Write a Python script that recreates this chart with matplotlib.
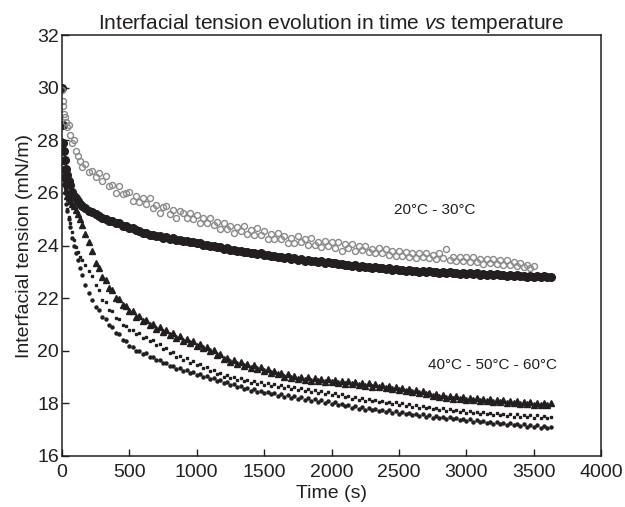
import matplotlib
matplotlib.use("Agg")
import matplotlib.pyplot as plt

plt.rcParams['font.family'] = ['Liberation Sans', 'DejaVu Sans']
plt.rcParams['mathtext.fontset'] = 'custom'
plt.rcParams['mathtext.rm'] = 'Liberation Sans'
plt.rcParams['mathtext.it'] = 'Liberation Sans:italic'

# sampling times (s)
time_s = [0, 5, 10, 15, 20, 30, 40, 50, 60, 75, 90, 105, 120, 135, 150, 175, 200,
          225, 250, 275, 300, 325, 350, 375, 400, 425, 450, 475, 500, 525, 550, 575, 600,
          625, 650, 675, 700, 725, 750, 775, 800, 825, 850, 875, 900, 925, 950, 975, 1000,
          1025, 1050, 1075, 1100, 1125, 1150, 1175, 1200, 1225, 1250, 1275, 1300, 1325, 1350,
          1375, 1400, 1425, 1450, 1475, 1500, 1525, 1550, 1575, 1600, 1625, 1650, 1675, 1700,
          1725, 1750, 1775, 1800, 1825, 1850, 1875, 1900, 1925, 1950, 1975, 2000, 2025, 2050,
          2075, 2100, 2125, 2150, 2175, 2200, 2225, 2250, 2275, 2300, 2325, 2350, 2375, 2400,
          2425, 2450, 2475, 2500, 2525, 2550, 2575, 2600, 2625, 2650, 2675, 2700, 2725, 2750,
          2775, 2800, 2825, 2850, 2875, 2900, 2925, 2950, 2975, 3000, 3025, 3050, 3075, 3100,
          3125, 3150, 3175, 3200, 3225, 3250, 3275, 3300, 3325, 3350, 3375, 3400, 3425, 3450,
          3475, 3500, 3525, 3550, 3575, 3600, 3625]

# interfacial tension (mN/m)
t20 = [29.9, 29.5, 29.3, 29.0, 28.9, 28.7, 28.5, 28.6, 28.2, 27.9, 28.0, 27.6, 27.4, 27.2, 27.0, 27.1, 26.8,
       26.85, 26.6, 26.75, 26.45, 26.65, 26.25, 26.3, 26.0, 26.25, 25.95, 26.0, 26.05, 25.7, 25.9, 25.65, 25.8,
       25.6, 25.8, 25.42, 25.55, 25.25, 25.45, 25.52, 25.2, 25.37, 25.05, 25.32, 25.25, 25.05, 25.25, 25.03, 25.15,
       24.87, 25.05, 24.85, 25.05, 24.8, 24.9, 24.63, 24.85, 24.62, 24.75, 24.46, 24.72, 24.55, 24.73,
       24.45, 24.58, 24.41, 24.65, 24.42, 24.55, 24.26, 24.43, 24.25, 24.47, 24.25, 24.38, 24.1, 24.28,
       24.11, 24.35, 24.13, 24.25, 24.03, 24.28, 24.03, 24.15, 23.93, 24.18, 24.0, 24.13, 23.91, 24.12,
       23.8, 24.05, 23.9, 24.05, 23.81, 23.98, 23.82, 24.0, 23.75, 23.88, 23.7, 23.9, 23.73, 23.86,
       23.63, 23.79, 23.62, 23.78, 23.62, 23.77, 23.58, 23.71, 23.54, 23.71, 23.56, 23.72, 23.53, 23.66,
       23.49, 23.7, 23.52, 23.86, 23.44, 23.58, 23.4, 23.56, 23.41, 23.55, 23.36, 23.55, 23.38, 23.5,
       23.31, 23.5, 23.34, 23.48, 23.29, 23.44, 23.28, 23.45, 23.26, 23.38, 23.21, 23.33, 23.19, 23.26,
       23.16, 23.23]

t30 = [30.0, 28.6, 27.9, 27.6, 27.25, 26.9, 26.7, 26.45, 26.3, 26.05, 25.9, 25.8, 25.7, 25.6, 25.5, 25.42, 25.33,
       25.28, 25.19, 25.14, 25.06, 25.03, 24.95, 24.94, 24.86, 24.84, 24.76, 24.74, 24.67, 24.65, 24.58, 24.56, 24.49,
       24.48, 24.41, 24.41, 24.35, 24.35, 24.30, 24.31, 24.26, 24.27, 24.22, 24.23, 24.18, 24.19, 24.14, 24.15, 24.10,
       24.11, 24.04, 24.04, 23.98, 23.99, 23.93, 23.94, 23.88, 23.9, 23.84, 23.85, 23.79, 23.81, 23.75,
       23.77, 23.71, 23.73, 23.68, 23.7, 23.64, 23.66, 23.6, 23.62, 23.56, 23.58, 23.53, 23.55, 23.49,
       23.51, 23.46, 23.48, 23.43, 23.45, 23.4, 23.42, 23.37, 23.4, 23.35, 23.37, 23.32, 23.34, 23.29,
       23.31, 23.26, 23.28, 23.23, 23.25, 23.2, 23.23, 23.18, 23.2, 23.15, 23.18, 23.13, 23.15, 23.1,
       23.13, 23.08, 23.11, 23.06, 23.09, 23.04, 23.07, 23.02, 23.05, 23.01, 23.04, 22.99, 23.02, 22.98,
       23.01, 22.96, 22.99, 22.95, 22.98, 22.94, 22.97, 22.93, 22.96, 22.92, 22.95, 22.91, 22.94, 22.9,
       22.93, 22.89, 22.92, 22.88, 22.91, 22.87, 22.9, 22.85, 22.88, 22.84, 22.87, 22.83, 22.86, 22.82,
       22.85, 22.81, 22.84, 22.8, 22.83, 22.79, 22.8]

t40 = [27.6, 27.2, 26.9, 26.6, 26.4, 26.1, 25.9, 25.8, 25.7, 25.6, 25.5, 25.35, 25.2, 25.0, 24.8, 24.45, 24.15,
       23.8, 23.35, 23.15, 22.8, 22.68, 22.38, 22.3, 22.02, 21.98, 21.74, 21.72, 21.5, 21.5, 21.3, 21.33, 21.12,
       21.16, 20.97, 21.02, 20.83, 20.9, 20.7, 20.78, 20.6, 20.66, 20.48, 20.56, 20.38, 20.46, 20.28, 20.36, 20.2,
       20.26, 20.1, 20.14, 19.98, 20.02, 19.84, 19.86, 19.7, 19.72, 19.58, 19.64, 19.5, 19.57, 19.43,
       19.5, 19.36, 19.45, 19.3, 19.38, 19.24, 19.3, 19.16, 19.24, 19.1, 19.16, 19.02, 19.1, 18.96,
       19.05, 18.92, 19.02, 18.89, 18.99, 18.86, 18.96, 18.84, 18.94, 18.82, 18.92, 18.8, 18.9, 18.77,
       18.86, 18.74, 18.84, 18.72, 18.81, 18.7, 18.79, 18.67, 18.76, 18.64, 18.73, 18.62, 18.7, 18.59,
       18.67, 18.56, 18.63, 18.52, 18.6, 18.48, 18.56, 18.44, 18.51, 18.39, 18.46, 18.34, 18.41, 18.29,
       18.37, 18.25, 18.33, 18.21, 18.3, 18.18, 18.27, 18.16, 18.25, 18.14, 18.22, 18.12, 18.2, 18.1,
       18.18, 18.08, 18.16, 18.06, 18.14, 18.04, 18.12, 18.02, 18.1, 18.0, 18.08, 17.98, 18.06, 17.96,
       18.04, 17.95, 18.03, 17.94, 18.02, 17.92, 18.0]

t50 = [27.8, 27.3, 26.9, 26.5, 26.2, 25.8, 25.4, 25.1, 24.85, 24.5, 24.2, 23.95, 23.75, 23.55, 23.45, 23.25, 23.05,
       22.85, 22.5, 22.3, 21.95, 21.84, 21.56, 21.5, 21.25, 21.2, 20.97, 20.95, 20.78, 20.8, 20.65, 20.67, 20.5,
       20.52, 20.37, 20.4, 20.23, 20.25, 20.07, 20.1, 19.93, 19.95, 19.78, 19.82, 19.66, 19.71, 19.55, 19.6, 19.45,
       19.5, 19.35, 19.39, 19.25, 19.28, 19.13, 19.16, 19.02, 19.07, 18.96, 19.01, 18.9, 18.95, 18.84,
       18.9, 18.79, 18.85, 18.75, 18.81, 18.71, 18.77, 18.67, 18.73, 18.63, 18.69, 18.6, 18.66, 18.56,
       18.62, 18.52, 18.58, 18.48, 18.54, 18.44, 18.5, 18.4, 18.46, 18.37, 18.43, 18.33, 18.39, 18.29,
       18.34, 18.24, 18.28, 18.18, 18.23, 18.14, 18.2, 18.11, 18.17, 18.08, 18.14, 18.04, 18.1, 18.01,
       18.07, 17.98, 18.04, 17.94, 18.0, 17.91, 17.97, 17.88, 17.93, 17.84, 17.9, 17.81, 17.86, 17.77,
       17.83, 17.74, 17.81, 17.72, 17.79, 17.7, 17.76, 17.67, 17.74, 17.65, 17.71, 17.62, 17.69, 17.6,
       17.67, 17.58, 17.65, 17.56, 17.63, 17.54, 17.61, 17.52, 17.59, 17.5, 17.58, 17.49, 17.56, 17.47,
       17.55, 17.46, 17.54, 17.45, 17.53, 17.44, 17.5]

t60 = [28.0, 27.2, 26.7, 26.3, 26.0, 25.6, 25.3, 25.0, 24.7, 24.3, 24.0, 23.7, 23.45, 23.15, 22.9, 22.5, 22.2,
       21.95, 21.65, 21.55, 21.3, 21.22, 20.98, 20.9, 20.68, 20.62, 20.41, 20.37, 20.18, 20.16, 20.0, 20.01, 19.88,
       19.9, 19.76, 19.78, 19.64, 19.66, 19.52, 19.54, 19.41, 19.44, 19.32, 19.36, 19.24, 19.28, 19.16, 19.21, 19.09,
       19.13, 19.02, 19.05, 18.94, 18.97, 18.86, 18.89, 18.78, 18.82, 18.71, 18.75, 18.64, 18.67, 18.56,
       18.6, 18.49, 18.53, 18.42, 18.48, 18.38, 18.44, 18.34, 18.4, 18.3, 18.36, 18.26, 18.32, 18.22,
       18.28, 18.18, 18.24, 18.14, 18.2, 18.1, 18.16, 18.06, 18.12, 18.02, 18.08, 17.98, 18.04, 17.94,
       17.99, 17.89, 17.94, 17.84, 17.9, 17.8, 17.86, 17.76, 17.82, 17.73, 17.79, 17.7, 17.76, 17.67,
       17.73, 17.64, 17.7, 17.61, 17.67, 17.58, 17.64, 17.55, 17.61, 17.52, 17.58, 17.49, 17.55, 17.46,
       17.52, 17.44, 17.5, 17.42, 17.48, 17.4, 17.45, 17.37, 17.42, 17.34, 17.4, 17.31, 17.37, 17.28,
       17.34, 17.25, 17.31, 17.22, 17.28, 17.2, 17.26, 17.18, 17.24, 17.16, 17.22, 17.14, 17.2, 17.12,
       17.18, 17.1, 17.16, 17.08, 17.14, 17.06, 17.1]

x_ticks = [0, 500, 1000, 1500, 2000, 2500, 3000, 3500, 4000]
y_ticks = [16, 18, 20, 22, 24, 26, 28, 30, 32]

fig = plt.figure(figsize=(6.25, 5.07), dpi=100)
ax = fig.add_axes([0.099, 0.1006, 0.863, 0.830])

dark = '#231f20'
gray = '#8a8a8a'

ax.plot(time_s[:len(t60)], t60, linestyle='none', marker='o', ms=2.2, color=dark, mec=dark)
ax.plot(time_s[:len(t50)], t50, linestyle='none', marker='s', ms=2.0, color=dark, mec=dark)
ax.plot(time_s[:len(t40)], t40, linestyle='none', marker='^', ms=3.8, color=dark, mec=dark)
ax.plot(time_s[:len(t30)], t30, linestyle='none', marker='o', ms=5.5, color=dark, mec=dark)
ax.plot(time_s[:len(t20)], t20, linestyle='none', marker='o', ms=4.3, mfc='none', mec=gray, mew=1.0)

ax.set_xlim(0, 4000)
ax.set_ylim(16, 32)
ax.set_xticks(x_ticks)
ax.set_yticks(y_ticks)
ax.tick_params(direction='in', length=5, width=1, labelsize=14, colors='#231f20',
               top=False, right=False)
ax.tick_params(axis='x', pad=5.5)
ax.tick_params(axis='y', pad=2)
for s in ax.spines.values():
    s.set_linewidth(1.1)
    s.set_color('#231f20')

ax.set_xlabel('Time (s)', fontsize=14, labelpad=3, color='#231f20')
ax.set_ylabel('Interfacial tension (mN/m)', fontsize=14, labelpad=3, color='#231f20')
ax.set_title(r'Interfacial tension evolution in time $\mathit{vs}$ temperature',
             fontsize=15, pad=4, color='#231f20')

ax.text(2768, 25.35, '20°C - 30°C', fontsize=11, ha='center', va='center', color='#231f20')
ax.text(3191, 19.46, '40°C - 50°C - 60°C', fontsize=11, ha='center', va='center', color='#231f20')

fig.savefig('out.png', dpi=100)
